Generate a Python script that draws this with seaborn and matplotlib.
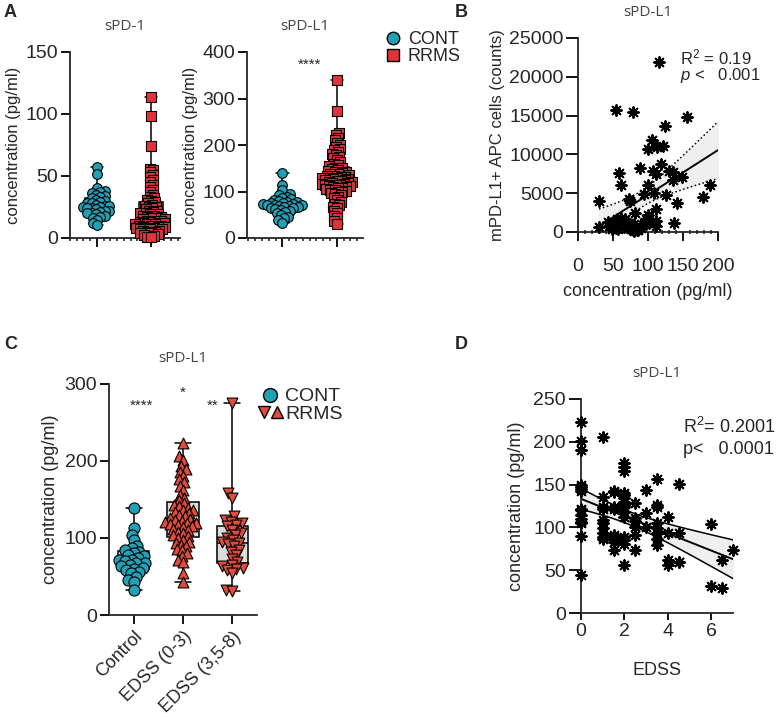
import warnings

import numpy
import pandas
import seaborn as sea
from matplotlib import pyplot
from matplotlib.legend_handler import HandlerTuple
from matplotlib.lines import Line2D
from matplotlib.ticker import MultipleLocator

# swarmplot complains when points do not fit - that is fine here
warnings.filterwarnings("ignore", category=UserWarning)

# ---- panel A data (pg/ml)
pd1_cont = [57.5, 52, 40, 38, 37, 36, 35, 34, 33, 32, 31, 30, 29, 28, 28,
            27, 26, 26, 25, 25, 24, 24, 23, 22, 22, 21, 20, 20, 19, 18, 17,
            16, 14.5, 12, 10.5]
pd1_rrms = [114, 98, 74, 56, 55, 53, 51, 49, 47, 45, 43, 41, 39, 37, 35, 33,
            32, 31, 30, 29, 28, 27, 26, 25, 25, 24, 23, 22, 22, 21, 20, 20,
            19, 19, 18, 18, 17, 17, 16, 16, 15, 15, 14, 14, 14, 13, 13, 12,
            12, 12, 11, 11, 11, 10, 10, 10, 9, 9, 9, 8, 8, 8, 7, 7, 7, 6, 6,
            5, 5, 4, 4, 3, 2.5, 2, 1, 0.5]
pdl1_cont = [140, 114, 103, 95, 92, 89, 86, 84, 82, 80, 78, 77, 76, 75, 74,
             73, 72, 71, 70, 69, 68, 67, 66, 65, 64, 62, 60, 58, 56, 53, 50,
             46, 42, 38, 33]
pdl1_rrms = [340, 273, 226, 221, 215, 211, 204, 200, 196, 192, 189, 185, 180,
             178, 174, 171, 168, 164, 160, 157, 154, 151, 150, 148, 146, 144,
             143, 141, 140, 138, 137, 135, 134, 133, 132, 131, 130, 129, 128,
             127, 126, 125, 124, 123, 122, 121, 120, 119, 118, 117, 116, 115,
             114, 113, 112, 111, 110, 109, 108, 107, 105, 104, 103, 101, 100,
             98, 96, 94, 92, 89, 85, 81, 78, 74, 71, 67, 64, 58, 53, 47, 42,
             36, 30]

# ---- panel B data
b_conc = [116, 54, 79, 155, 124, 106, 100, 113, 121, 119,
          89, 107, 112, 130, 136, 149, 135, 59, 61, 100,
          109, 94, 125, 73, 74, 30, 188, 178, 141, 111,
          82, 137, 100, 97, 30, 43, 44, 56, 58, 63,
          67, 70, 66, 54, 57, 75, 80, 82, 85, 80,
          111, 112, 101, 97, 48, 52, 60, 65, 72, 78,
          84, 88, 90, 95, 62, 68, 76, 86]
b_cells = [21900, 15740, 15480, 14840, 13680, 11870, 10750, 11010, 11100, 8770,
           8300, 7870, 7440, 7870, 7740, 7140, 6710, 7570, 6020, 6020,
           5075, 4860, 4730, 4300, 4000, 4000, 6020, 4560, 3700, 2925,
           2400, 1200, 2150, 1630, 690, 1290, 770, 1630, 1290, 1420,
           1630, 990, 770, 560, 340, 340, 990, 560, 340, 130,
           1420, 770, 1200, 990, 400, 900, 1500, 600, 1100, 300,
           200, 800, 500, 1300, 1800, 1000, 700, 250]

# ---- panel C data
c_groups = ["Control", "EDSS (0-3)", "EDSS (3,5-8)"]
c_control = [139, 113, 104, 97, 89, 87, 84, 82, 80, 78, 76, 74, 72, 71, 70,
             68, 67, 65, 63, 61, 60, 58, 56, 54, 50, 45, 43, 32]
c_low = [224, 206, 201, 193, 189, 186, 180, 176, 173, 168, 162, 156, 152, 149,
         145, 143, 141, 139, 137, 136, 134, 132, 130, 128, 126, 125, 123, 122,
         121, 120, 119, 118, 117, 115, 114, 112, 110, 108, 106, 104, 102, 100,
         98, 95, 93, 91, 89, 86, 84, 80, 76, 72, 69, 54, 43]
c_high = [275, 158, 152, 128, 124, 121, 119, 117, 115, 111, 106, 104, 100, 97,
          95, 93, 92, 89, 85, 82, 78, 73, 69, 65, 63, 61, 60, 58, 54, 32, 31]

# ---- panel D data
d_edss = ([0] * 15 + [1] * 10 + [1.5] * 9 + [2] * 15 + [2.5] * 6 + [3] * 3
          + [3.5] * 8 + [4] * 4 + [4.5] * 4 + [6] * 2 + [6.5] * 2 + [7])
d_conc = [223, 201, 190, 150, 147, 145, 143, 122, 120, 115, 110, 106, 105, 90, 44,
          206, 136, 124, 122, 109, 105, 99, 93, 89, 87,
          142, 141, 124, 122, 91, 89, 86, 83, 74,
          175, 170, 166, 140, 138, 134, 130, 126, 124, 118, 112, 89, 85, 81, 56,
          128, 111, 107, 101, 91, 74,
          144, 117, 101,
          156, 126, 124, 105, 99, 93, 87, 79,
          112, 94, 62, 56,
          151, 93, 60, 59,
          104, 31,
          62, 29,
          74]

TEAL = "#22a0b6"
RED = "#e0343a"
RED_C = "#e24b3c"
BOXGREY = "#dcdcdc"

sea.set_style("ticks")
pyplot.rcParams["font.family"] = ["Liberation Sans", "DejaVu Sans"]
pyplot.rcParams["mathtext.fontset"] = "custom"
pyplot.rcParams["mathtext.it"] = "Liberation Sans:italic"
pyplot.rcParams["mathtext.rm"] = "Liberation Sans"

W, H = 777, 717
figure = pyplot.figure(figsize=(W / 100, H / 100), dpi=100)

# swarms are laid out with a small marker, then shown with a bigger one,
# so that the points overlap like in the original dot plots
swarms = []


def px_axes(x0, y0, x1, y1):
    # pixel box (top-left origin) -> figure axes
    return figure.add_axes([x0 / W, 1 - y1 / H, (x1 - x0) / W, (y1 - y0) / H])


def style(axis):
    for side in ["top", "right"]:
        axis.spines[side].set_visible(False)
    for side in ["left", "bottom"]:
        axis.spines[side].set_linewidth(1.3)
    axis.tick_params(width=1.3, length=6.5, labelsize=14, pad=2,
                     color="black")


def title(axis, text):
    axis.set_title(text, fontsize=11, color="#444444", pad=16,
                   family=["Open Sans", "DejaVu Sans"])


def swarm(axis, frame, group, order, color, marker, size, layout):
    before = len(axis.collections)
    sea.swarmplot(data=frame[frame.group == group], x="group", y="value",
                  order=order, color=color, marker=marker, size=layout,
                  edgecolor="black", linewidth=0.8, zorder=3, ax=axis)
    for points in axis.collections[before:]:
        points.set_clip_on(False)
        swarms.append((points, size))


def dot_panel(axis, cont, rrms, xlim, ylim, step):
    frame = pandas.DataFrame({
        "group": ["CONT"] * len(cont) + ["RRMS"] * len(rrms),
        "value": cont + rrms,
    })
    order = ["CONT", "RRMS"]
    sea.boxplot(data=frame, x="group", y="value", order=order, whis=(0, 100),
                width=0.45, color=BOXGREY, linecolor="black", linewidth=1.1,
                showfliers=False, ax=axis)
    swarm(axis, frame, "CONT", order, TEAL, "o", 7.0, 2.4)
    swarm(axis, frame, "RRMS", order, RED, "s", 6.6, 1.9)
    axis.set_xlim(xlim)
    axis.set_ylim(ylim)
    axis.yaxis.set_major_locator(MultipleLocator(step))
    axis.set_xticks([0, 1], ["", ""])
    axis.xaxis.set_minor_locator(MultipleLocator(0.125))
    axis.set_xlabel("")
    axis.set_ylabel("concentration (pg/ml)", fontsize=12, labelpad=3)
    style(axis)
    axis.tick_params(axis="x", which="minor", length=2.5, width=1.2)


def regression_band(axis, x, y, x0, x1, band_style):
    x = numpy.asarray(x, float)
    y = numpy.asarray(y, float)
    slope, icpt = numpy.polyfit(x, y, 1)
    n = len(x)
    resid = y - (slope * x + icpt)
    s = numpy.sqrt(numpy.sum(resid ** 2) / (n - 2))
    grid = numpy.linspace(x0, x1, 100)
    fit = slope * grid + icpt
    se = s * numpy.sqrt(1 / n + (grid - x.mean()) ** 2
                        / numpy.sum((x - x.mean()) ** 2))
    lo, hi = fit - 1.99 * se, fit + 1.99 * se
    axis.fill_between(grid, lo, hi, color="#efefef", zorder=0)
    axis.plot(grid, fit, color="black", lw=1.4, zorder=1)
    axis.plot(grid, lo, color="black", lw=1.1, ls=band_style, zorder=1)
    axis.plot(grid, hi, color="black", lw=1.1, ls=band_style, zorder=1)


STAR = (8, 2, 0)

# ---------------- panel A
ax_a1 = px_axes(70, 52, 180, 238)
dot_panel(ax_a1, pd1_cont, pd1_rrms, (-0.5, 1.54), (0, 150), 50)
title(ax_a1, "sPD-1")

ax_a2 = px_axes(247, 52, 363, 238)
dot_panel(ax_a2, pdl1_cont, pdl1_rrms, (-0.65, 1.48), (0, 400), 100)
title(ax_a2, "sPD-L1")
ax_a2.text(0.5, 372, "****", ha="center", va="center", fontsize=11)

figure.legend(
    handles=[Line2D([], [], ls="", marker="o", ms=9, mfc=TEAL, mec="black"),
             Line2D([], [], ls="", marker="s", ms=8.5, mfc=RED, mec="black")],
    labels=["CONT", "RRMS"], loc="upper left",
    bbox_to_anchor=(377 / W, 1 - 22 / H), frameon=False, fontsize=13,
    handlelength=0.8, handletextpad=0.4, labelspacing=0.0, borderpad=0)

# ---------------- panel B
ax_b = px_axes(578, 38, 718, 232)
regression_band(ax_b, b_conc, b_cells, min(b_conc), 200, ":")
sea.scatterplot(x=b_conc, y=b_cells, marker=STAR, color="black", s=60,
                linewidth=1.4, clip_on=False, zorder=3, ax=ax_b)
ax_b.set_xlim(0, 200)
ax_b.set_ylim(0, 25000)
ax_b.set_xticks(range(0, 201, 50))
ax_b.set_yticks(range(0, 25001, 5000))
ax_b.xaxis.set_minor_locator(MultipleLocator(10))
ax_b.set_xlabel("concentration (pg/ml)", fontsize=13, labelpad=6)
ax_b.set_ylabel("mPD-L1+ APC cells (counts)", fontsize=12, labelpad=3)
style(ax_b)
ax_b.tick_params(axis="y", length=8.5)
ax_b.tick_params(axis="x", which="major", pad=12)
ax_b.tick_params(axis="x", which="minor", length=3, width=1.2,
                 direction="inout")
title(ax_b, "sPD-L1")
ax_b.text(0.73, 0.90, "R$^2$ = 0.19", transform=ax_b.transAxes,
          fontsize=12, ha="left", va="center")
ax_b.text(0.73, 0.805, "$p$ <   0.001", transform=ax_b.transAxes,
          fontsize=12, ha="left", va="center")

# ---------------- panel C
ax_c = px_axes(109, 384, 257, 615)
frame_c = pandas.DataFrame({
    "group": [c_groups[0]] * len(c_control) + [c_groups[1]] * len(c_low)
    + [c_groups[2]] * len(c_high),
    "value": c_control + c_low + c_high,
})
sea.boxplot(data=frame_c, x="group", y="value", order=c_groups,
            whis=(0, 100), width=0.64, color=BOXGREY, linecolor="black",
            linewidth=1.1, showfliers=False, ax=ax_c)
swarm(ax_c, frame_c, c_groups[0], c_groups, TEAL, "o", 8.0, 3.3)
swarm(ax_c, frame_c, c_groups[1], c_groups, RED_C, "^", 7.8, 3.1)
swarm(ax_c, frame_c, c_groups[2], c_groups, RED_C, "v", 7.8, 3.5)
ax_c.set_xlim(-0.5, 2.5)
ax_c.set_ylim(0, 300)
ax_c.yaxis.set_major_locator(MultipleLocator(100))
ax_c.set_xlabel("")
ax_c.set_ylabel("concentration (pg/ml)", fontsize=13, labelpad=4)
style(ax_c)
ax_c.set_xticks(range(3))
ax_c.set_xticklabels(c_groups, rotation=45, ha="right",
                     rotation_mode="anchor")
ax_c.tick_params(axis="x", pad=3, labelsize=13)
title(ax_c, "sPD-L1")
ax_c.text(0.15, 272, "****", ha="center", va="center", fontsize=11)
ax_c.text(1.0, 288, "*", ha="center", va="center", fontsize=11)
ax_c.text(1.6, 272, "**", ha="center", va="center", fontsize=11)

figure.legend(
    handles=[Line2D([], [], ls="", marker="o", ms=10, mfc=TEAL, mec="black"),
             (Line2D([], [], ls="", marker="v", ms=9, mfc=RED_C, mec="black"),
              Line2D([], [], ls="", marker="^", ms=9, mfc=RED_C, mec="black"))],
    labels=["CONT", "RRMS"], loc="upper left",
    bbox_to_anchor=(248 / W, 1 - 378 / H), frameon=False, fontsize=14,
    handler_map={tuple: HandlerTuple(ndivide=None, pad=0)},
    handlelength=1.3, handletextpad=0.1, labelspacing=0.0, borderpad=0)

# ---------------- panel D
ax_d = px_axes(581, 399, 733, 613)
regression_band(ax_d, d_edss, d_conc, 0, 7, "-")
sea.scatterplot(x=d_edss, y=d_conc, marker=STAR, color="black", s=60,
                linewidth=1.4, clip_on=False, zorder=3, ax=ax_d)
ax_d.set_xlim(0, 7)
ax_d.set_ylim(0, 250)
ax_d.set_xticks([0, 2, 4, 6])
ax_d.set_yticks(range(0, 251, 50))
ax_d.set_xlabel("EDSS", fontsize=13, labelpad=16)
ax_d.set_ylabel("concentration (pg/ml)", fontsize=13, labelpad=6)
style(ax_d)
ax_d.tick_params(axis="y", length=9)
ax_d.tick_params(axis="x", length=5)
title(ax_d, "sPD-L1")
ax_d.text(0.67, 0.87, "R$^2$= 0.2001", transform=ax_d.transAxes,
          fontsize=13, ha="left", va="center")
ax_d.text(0.67, 0.765, "p<   0.0001", transform=ax_d.transAxes,
          fontsize=13, ha="left", va="center")

# panel letters
for letter, x, y in [("A", 4, 4), ("B", 455, 4), ("C", 4, 336), ("D", 455, 336)]:
    figure.text(x / W, 1 - y / H, letter, fontsize=13, fontweight="bold",
                ha="left", va="top")

# lay the swarms out once, then freeze them and enlarge the markers
figure.canvas.draw()
for points, size in swarms:
    if "draw" in vars(points):
        del points.draw
    points.set_sizes([size ** 2])

figure.savefig("out.png", dpi=100)
